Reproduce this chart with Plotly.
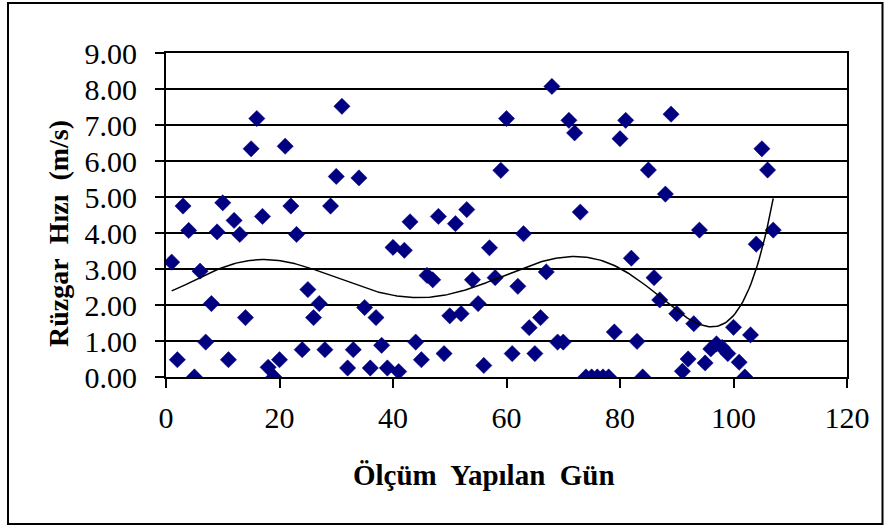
import numpy as np
import plotly.graph_objects as go

days = list(range(1, 108))
speed = [
    3.19, 0.48, 4.75, 4.07, 0.00, 2.94, 0.97, 2.04, 4.03, 4.84,
    0.48, 4.35, 3.96, 1.65, 6.34, 7.18, 4.46, 0.27, 0.00, 0.48,
    6.41, 4.75, 3.96, 0.76, 2.43, 1.65, 2.04, 0.76, 4.75, 5.57,
    7.52, 0.25, 0.76, 5.53, 1.93, 0.25, 1.65, 0.88, 0.25, 3.60,
    0.15, 3.52, 4.31, 0.97, 0.48, 2.82, 2.70, 4.46, 0.65, 1.70,
    4.26, 1.76, 4.65, 2.70, 2.04, 0.32, 3.59, 2.76, 5.74, 7.18,
    0.65, 2.52, 3.98, 1.37, 0.65, 1.65, 2.92, 8.07, 0.97, 0.97,
    7.13, 6.78, 4.58, 0.00, 0.00, 0.00, 0.00, 0.00, 1.25, 6.62,
    7.13, 3.30, 0.99, 0.00, 5.75, 2.76, 2.14, 5.08, 7.30, 1.76,
    0.16, 0.50, 1.48, 4.08, 0.39, 0.78, 0.92, 0.82, 0.65, 1.38,
    0.41, 0.00, 1.17, 3.69, 6.34, 5.75, 4.08,
]
x_title = "Ölçüm&nbsp; Yapılan&nbsp; Gün"
y_title = "Rüzgar&nbsp; Hızı&nbsp; (m/s)"

# 6th-order polynomial trendline (as in the spreadsheet chart)
coef = np.polyfit(days, speed, 6)
tx = np.linspace(min(days), max(days), 300)
ty = np.polyval(coef, tx)

FONT = "Liberation Serif"
L, R, T, B = 166, 847, 53, 377
W, H = 891, 527
pw, ph = R - L, B - T

def px(v):
    return (v - L) / pw

def py(v):
    return (B - v) / ph

fig = go.Figure()
fig.add_trace(go.Scatter(
    x=days, y=speed, mode="markers",
    marker=dict(symbol="diamond", size=12.5, color="#000080",
                line=dict(color="#000080", width=0.5)),
    showlegend=False, hoverinfo="skip",
))
fig.add_trace(go.Scatter(
    x=tx, y=ty, mode="lines", line=dict(color="black", width=1.5),
    showlegend=False, hoverinfo="skip",
))

fig.update_layout(
    width=W, height=H,
    margin=dict(l=L, r=W - R, t=T, b=H - B, pad=0),
    paper_bgcolor="white", plot_bgcolor="white",
    font=dict(family=FONT, color="black", size=30),
    xaxis=dict(
        range=[0, 120], tickvals=[0, 20, 40, 60, 80, 100, 120],
        showgrid=False, zeroline=False,
        showline=True, linecolor="black", linewidth=2, mirror=True,
        ticks="outside", ticklen=9, tickwidth=1.5, tickcolor="black",
        tickfont=dict(family=FONT, size=30, color="black"),
        ticklabelstandoff=4,
    ),
    yaxis=dict(
        range=[0, 9], tickvals=list(range(0, 10)), tickformat=".2f",
        showgrid=True, gridcolor="black", gridwidth=1.5, zeroline=False,
        showline=True, linecolor="black", linewidth=2, mirror=True,
        ticks="outside", ticklen=9, tickwidth=1.5, tickcolor="black",
        tickfont=dict(family=FONT, size=30, color="black"),
        ticklabelstandoff=12,
    ),
    annotations=[
        dict(text=f"<b>{x_title}</b>", xref="paper", yref="paper",
             x=px(484), y=py(475), xanchor="center", yanchor="middle",
             showarrow=False, font=dict(family=FONT, size=29, color="black")),
        dict(text=f"<b>{y_title}</b>", xref="paper", yref="paper",
             x=px(58), y=py(233), xanchor="center", yanchor="middle",
             textangle=-90, showarrow=False,
             font=dict(family=FONT, size=28, color="black")),
    ],
    shapes=[
        dict(type="rect", xref="paper", yref="paper",
             x0=px(8), x1=px(882.5), y0=py(524), y1=py(3),
             line=dict(color="black", width=2), fillcolor="rgba(0,0,0,0)",
             layer="below"),
    ],
)

fig.write_html("out.html")
